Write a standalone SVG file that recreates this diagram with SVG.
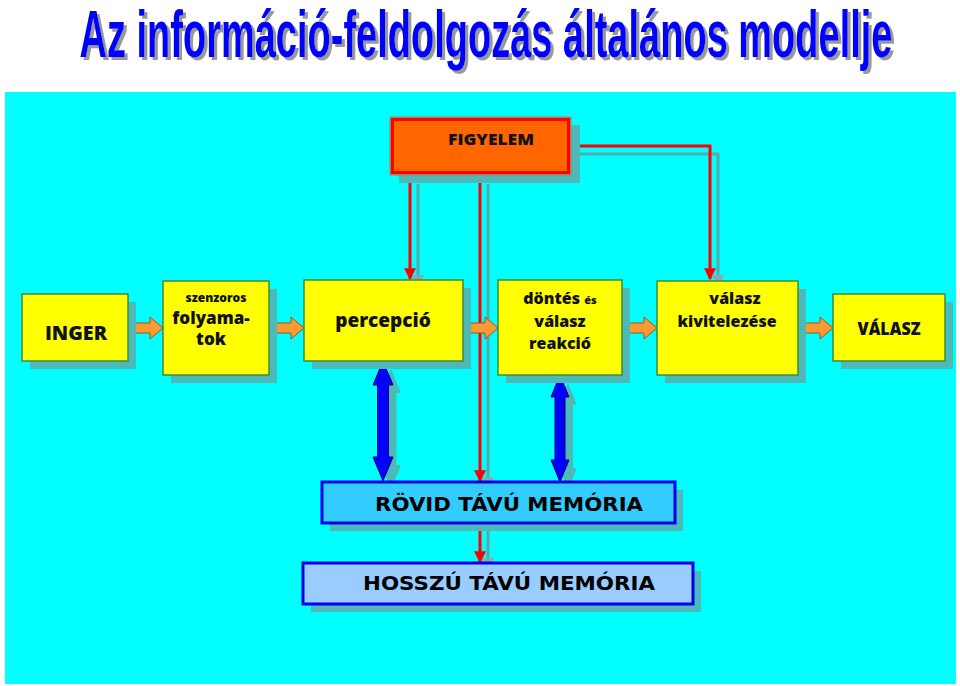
<svg xmlns="http://www.w3.org/2000/svg" width="960" height="686" viewBox="0 0 960 686">
<defs>
<style>
.sh{fill:#4DB9B9;stroke:none}
.ybox{fill:#FFFF00;stroke:#3C8C3C;stroke-width:1.5}
.t{font-family:"Open Sans","DejaVu Sans",sans-serif;font-weight:800;fill:#111;text-anchor:middle}
.m{font-family:"DejaVu Sans","Liberation Sans",sans-serif;font-weight:bold;fill:#000;text-anchor:middle}
.oarr{fill:#FF9933;stroke:#8A5A20;stroke-width:1}
.red{stroke:#FF0000;stroke-width:3;fill:none}
.rsh{stroke:#55AAAA;stroke-width:3;fill:none}
.barr{fill:#0000FF;stroke:#000080;stroke-width:1}
</style>
<filter id="ds" x="-5%" y="-20%" width="110%" height="150%"><feDropShadow dx="3" dy="3" stdDeviation="0.5" flood-color="#999999" flood-opacity="1"/></filter>
<marker id="ra" viewBox="0 0 10 10" refX="9" refY="5" markerWidth="4" markerHeight="4" orient="auto" markerUnits="strokeWidth"><path d="M0,0L10,5L0,10z" fill="#FF0000"/></marker>
<marker id="ga" viewBox="0 0 10 10" refX="9" refY="5" markerWidth="4" markerHeight="4" orient="auto" markerUnits="strokeWidth"><path d="M0,0L10,5L0,10z" fill="#8AAAAA"/></marker>
</defs>
<rect width="960" height="686" fill="#FFFFFF"/>
<g id="title">
<text x="486" y="57" font-family="Liberation Sans,Arial,sans-serif" font-weight="bold" font-size="66" fill="#0000FF" textLength="813" lengthAdjust="spacingAndGlyphs" text-anchor="middle" filter="url(#ds)">Az információ-feldolgozás általános modellje</text>
</g>
<rect x="5" y="92" width="951" height="592" fill="#00FFFF"/>

<g id="connectors">
<polyline class="rsh" points="418,184 418,286" marker-end="url(#ga)"/>
<polyline class="rsh" points="488,184 488,488" marker-end="url(#ga)"/>
<polyline class="rsh" points="580,154 718,154 718,286" marker-end="url(#ga)"/>
<polyline class="rsh" points="488,531 488,569" marker-end="url(#ga)"/>
<polyline class="red" points="410,176 410,279" marker-end="url(#ra)"/>
<polyline class="red" points="480,176 480,481" marker-end="url(#ra)"/>
<polyline class="red" points="571,146 710,146 710,279" marker-end="url(#ra)"/>
<polyline class="red" points="480,523 480,562" marker-end="url(#ra)"/>
<polygon class="oarr" points="128,323 150,323 150,317 163,328 150,339 150,333 128,333"/>
<polygon class="oarr" points="269,323 291,323 291,317 304,328 291,339 291,333 269,333"/>
<polygon class="oarr" points="463,323 485,323 485,317 498,328 485,339 485,333 463,333"/>
<polygon class="oarr" points="622,323 644,323 644,317 657,328 644,339 644,333 622,333"/>
<polygon class="oarr" points="798,323 820,323 820,317 833,328 820,339 820,333 798,333"/>
<polygon class="sh" points="391,369 401,393 396.5,393 396.5,465 401,465 391,489 381,465 385.5,465 385.5,393 381,393"/>
<polygon class="sh" points="568,383 577,405 573,405 573,468 577,468 568,490 559,468 563,468 563,405 559,405"/>
<polygon class="barr" points="383,361 393,385 388.5,385 388.5,457 393,457 383,481 373,457 377.5,457 377.5,385 373,385"/>
<polygon class="barr" points="560,375 569,397 565,397 565,460 569,460 560,482 551,460 555,460 555,397 551,397"/>
</g>

<g id="figyelem">
<rect class="sh" x="399" y="125" width="181" height="58"/>
<rect x="390" y="117" width="181" height="58" fill="#FF6600" stroke="#888888" stroke-width="1"/>
<rect x="392.5" y="119.5" width="176" height="53" fill="#FF6600" stroke="#FF0000" stroke-width="3"/>
<text class="t" x="491" y="145" font-size="16" textLength="86" lengthAdjust="spacingAndGlyphs">FIGYELEM</text>
</g>

<g id="inger">
<rect class="sh" x="30" y="302" width="106" height="67"/>
<rect class="ybox" x="22" y="294" width="106" height="67"/>
<text class="t" x="76" y="340" font-size="20" textLength="62" lengthAdjust="spacingAndGlyphs">INGER</text>
</g>

<g id="szenzoros">
<rect class="sh" x="171" y="289" width="106" height="94"/>
<rect class="ybox" x="163" y="281" width="106" height="94"/>
<text class="t" x="216" y="302" font-size="12">szenzoros</text>
<text class="t" x="211" y="324" font-size="17">folyama-</text>
<text class="t" x="211" y="345" font-size="17">tok</text>
</g>

<g id="percepcio">
<rect class="sh" x="312" y="288" width="159" height="81"/>
<rect class="ybox" x="304" y="280" width="159" height="81"/>
<text class="t" x="383" y="327" font-size="19">percepció</text>
</g>

<g id="dontes">
<rect class="sh" x="506" y="288" width="124" height="95"/>
<rect class="ybox" x="498" y="280" width="124" height="95"/>
<text class="t" x="560" y="304" font-size="16">döntés <tspan font-size="11">és</tspan></text>
<text class="t" x="560" y="327" font-size="16">válasz</text>
<text class="t" x="560" y="349" font-size="16">reakció</text>
</g>

<g id="kivitelezes">
<rect class="sh" x="665" y="289" width="141" height="94"/>
<rect class="ybox" x="657" y="281" width="141" height="94"/>
<text class="t" x="735" y="304" font-size="16">válasz</text>
<text class="t" x="727" y="327" font-size="16">kivitelezése</text>
</g>

<g id="valasz">
<rect class="sh" x="841" y="302" width="112" height="67"/>
<rect class="ybox" x="833" y="294" width="112" height="67"/>
<text class="t" x="889" y="335" font-size="17" textLength="63" lengthAdjust="spacingAndGlyphs">VÁLASZ</text>
</g>

<g id="rovid">
<rect class="sh" x="330" y="490" width="353" height="41"/>
<rect x="322" y="482" width="353" height="41" fill="#33CCFF" stroke="#0000EE" stroke-width="3"/>
<text class="m" x="509" y="511" font-size="20" textLength="268" lengthAdjust="spacingAndGlyphs">RÖVID TÁVÚ MEMÓRIA</text>
</g>

<g id="hosszu">
<rect class="sh" x="311" y="571" width="390" height="41"/>
<rect x="303" y="563" width="390" height="41" fill="#99CCFF" stroke="#0000EE" stroke-width="3"/>
<text class="m" x="509" y="590" font-size="20" textLength="292" lengthAdjust="spacingAndGlyphs">HOSSZÚ TÁVÚ MEMÓRIA</text>
</g>
</svg>
